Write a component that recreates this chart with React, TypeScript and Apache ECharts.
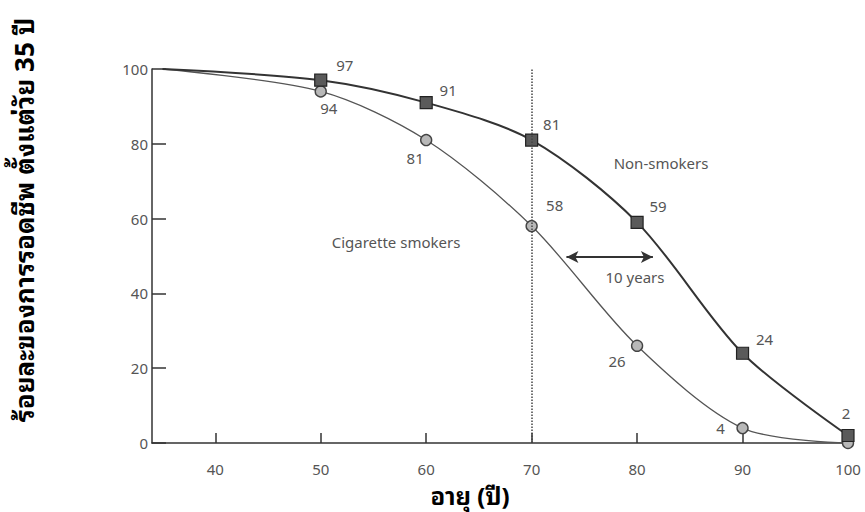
import React, { useEffect, useRef } from "react";
import * as echarts from "echarts";

const ages = [35, 50, 60, 70, 80, 90, 100];
const nonSmokers = [100, 97, 91, 81, 59, 24, 2];
const smokers = [100, 94, 81, 58, 26, 4, 0];
const xTicks = [40, 50, 60, 70, 80, 90, 100];
const yTicks = [0, 20, 40, 60, 80, 100];
const nonSmokerLabelOffsets: [number, number][] = [[0, 0], [24, -15], [22, -13], [20, -16], [21, -16], [22, -14], [-2, -23]];
const smokerLabelOffsets: [number, number][] = [[0, 0], [8, 17], [-11, 18], [23, -21], [-20, 15], [-22, 0], [0, 0]];

const FONT = "'Noto Sans', 'Open Sans', sans-serif";
const THAI = "'Noto Sans Thai Looped', 'Noto Sans Thai', Tahoma, 'Noto Sans', sans-serif";
const labelColor = "#555";

export default function App() {
  const ref = useRef<HTMLDivElement>(null);
  useEffect(() => {
    if (!ref.current) return;
    const chart = echarts.init(ref.current, undefined, { renderer: "svg" });
    const nsData = ages.map((a, i) => ({
      value: [a, nonSmokers[i]],
      symbolSize: i === 0 ? 0 : 12,
      label: {
        show: i !== 0,
        position: "inside",
        offset: nonSmokerLabelOffsets[i],
        formatter: String(nonSmokers[i]),
        color: labelColor,
        fontSize: 15,
        fontFamily: FONT,
      },
    }));
    const smData = ages.map((a, i) => ({
      value: [a, smokers[i]],
      symbolSize: i === 0 ? 0 : 11,
      label: {
        show: i !== 0 && i !== ages.length - 1,
        position: "inside",
        offset: smokerLabelOffsets[i],
        formatter: String(smokers[i]),
        color: labelColor,
        fontSize: 15,
        fontFamily: FONT,
      },
    }));
    chart.setOption({
      animation: false,
      backgroundColor: "#fff",
      grid: { left: 152, right: 17, top: 69, bottom: 69, containLabel: false },
      xAxis: {
        type: "value",
        min: 34,
        max: 100,
        interval: 10,
        splitLine: { show: false },
        axisLine: { lineStyle: { color: "#333", width: 1.5 } },
        axisTick: {
          show: true,
          inside: true,
          length: 10,
          lineStyle: { color: "#333", width: 1.5 },
          customValues: xTicks,
        },
        axisLabel: {
          customValues: xTicks,
          color: labelColor,
          fontSize: 15,
          fontFamily: FONT,
          margin: 18,
        },
      },
      yAxis: {
        type: "value",
        min: 0,
        max: 100,
        interval: 20,
        splitLine: { show: false },
        axisLine: { show: true, lineStyle: { color: "#333", width: 1.5 } },
        axisTick: {
          show: true,
          inside: true,
          length: 14,
          lineStyle: { color: "#333", width: 1.5 },
          customValues: yTicks,
        },
        axisLabel: {
          customValues: yTicks,
          color: labelColor,
          fontSize: 15,
          fontFamily: FONT,
          margin: 4,
        },
      },
      series: [
        {
          name: "Non-smokers",
          type: "line",
          smooth: 0.3,
          data: nsData,
          symbol: "rect",
          itemStyle: { color: "#5a5a5a", borderColor: "#222", borderWidth: 1.2 },
          lineStyle: { color: "#333", width: 2 },
          z: 3,
          markLine: {
            silent: true,
            symbol: ["none", "none"],
            label: { show: false },
            lineStyle: { color: "#444", type: "dotted", width: 1.5 },
            data: [{ xAxis: 70 }],
          },
        },
        {
          name: "Cigarette smokers",
          type: "line",
          smooth: 0.3,
          data: smData,
          symbol: "circle",
          itemStyle: { color: "#b8b8b8", borderColor: "#444", borderWidth: 1.4 },
          lineStyle: { color: "#555", width: 1.3 },
          z: 2,
          markLine: {
            silent: true,
            symbol: ["arrow", "arrow"],
            symbolSize: [9, 12],
            label: { show: false },
            lineStyle: { color: "#333", type: "solid", width: 2 },
            data: [[{ coord: [73.3, 49.7] }, { coord: [81.5, 49.7] }]],
          },
        },
      ],
      graphic: [
        {
          type: "text",
          x: 661,
          y: 163,
          style: { text: "Non-smokers", fill: labelColor, font: `15px ${FONT}`, align: "center", verticalAlign: "middle" },
        },
        {
          type: "text",
          x: 396,
          y: 242,
          style: { text: "Cigarette smokers", fill: labelColor, font: `15px ${FONT}`, align: "center", verticalAlign: "middle" },
        },
        {
          type: "text",
          x: 635,
          y: 277,
          style: { text: "10 years", fill: labelColor, font: `15px ${FONT}`, align: "center", verticalAlign: "middle" },
        },
        {
          type: "text",
          x: 470,
          y: 494,
          style: { text: "อายุ (ปี)", fill: "#000", font: `bold 24px ${THAI}`, align: "center", verticalAlign: "middle" },
        },
        {
          type: "text",
          x: 22,
          y: 220,
          rotation: Math.PI / 2,
          style: { text: "ร้อยละของการรอดชีพ ตั้งแต่วัย 35 ปี", fill: "#000", font: `bold 26px ${THAI}`, align: "center", verticalAlign: "middle" },
        },
      ],
    });
    return () => chart.dispose();
  }, []);
  return <div ref={ref} style={{ width: 865, height: 512, position: "absolute", left: 0, top: 0 }} />;
}
